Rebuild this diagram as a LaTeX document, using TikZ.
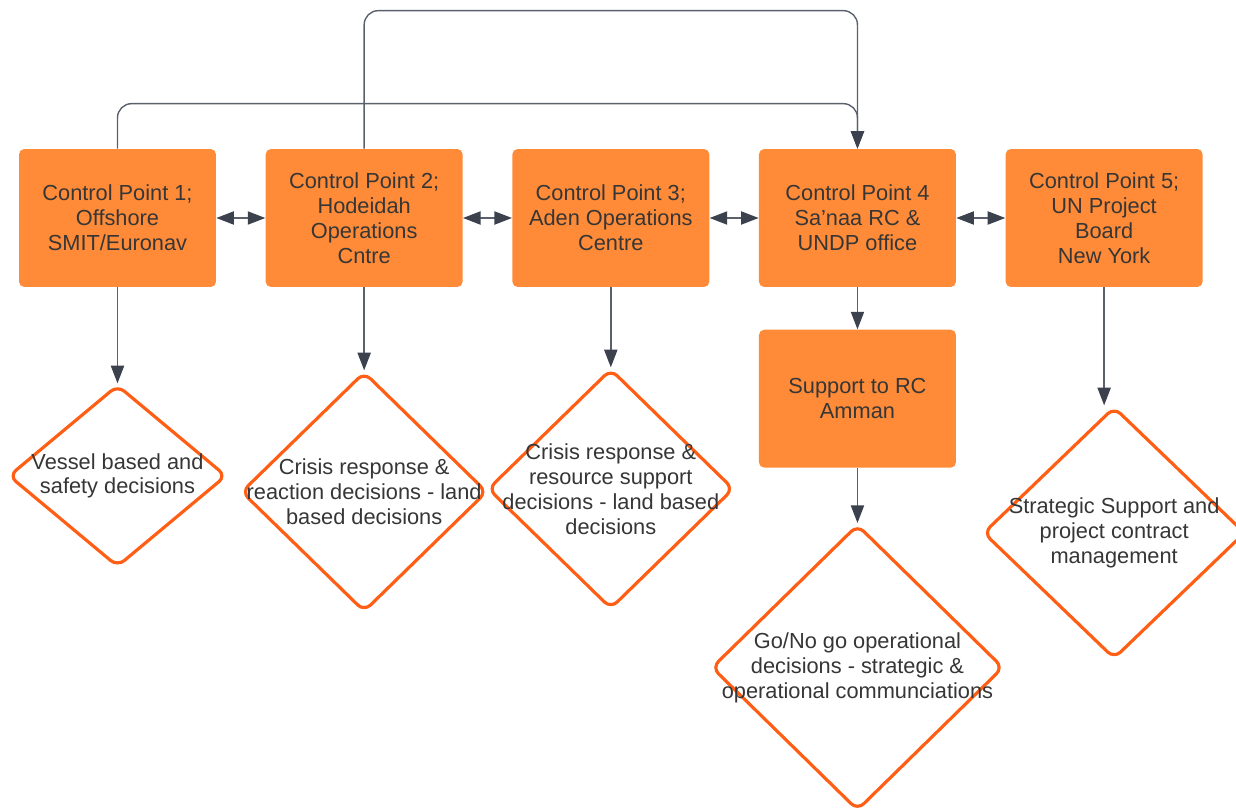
\documentclass[tikz,border=0pt]{standalone}
\usepackage{fontspec}
\setmainfont{Liberation Sans}
\usetikzlibrary{positioning,shapes.geometric,arrows.meta}
\definecolor{boxorange}{HTML}{FF8B38}
\definecolor{edgeorange}{HTML}{FF5E14}
\definecolor{linegrey}{HTML}{5B616C}
\definecolor{tipgrey}{HTML}{3B414D}
\definecolor{textgrey}{HTML}{363636}
\newcommand{\chartfont}{\fontsize{12.4}{14.2}\selectfont}

\tikzset{
	ctrl/.style={rectangle, rounded corners=3pt, fill=boxorange, minimum width=3.94cm,
		minimum height=2.76cm, align=center, text=textgrey, font=\chartfont},
	decision/.style={diamond, draw=edgeorange, line width=1.8pt, rounded corners=5pt,
		fill=white, inner sep=0pt},
	dtext/.style={align=center, text=textgrey, font=\chartfont},
	tip/.tip={Triangle[length=10pt, width=7.5pt, color=tipgrey]},
	link/.style={draw=linegrey, line width=0.8pt, -tip},
	dlink/.style={draw=linegrey, line width=0.8pt, tip-tip},
}

\begin{document}
\begin{tikzpicture}[x=0.02cm, y=-0.02cm]
	\useasboundingbox (0,0) rectangle (1236,811);

	% control points
	\node[ctrl] (b1) at (117.5,218) {Control Point 1;\\Offshore\\SMIT/Euronav};
	\node[ctrl, right=0.98cm of b1] (b2) {Control Point 2;\\Hodeidah\\Operations\\Cntre};
	\node[ctrl, right=0.98cm of b2] (b3) {Control Point 3;\\Aden Operations\\Centre};
	\node[ctrl, right=0.98cm of b3] (b4) {Control Point 4\\Sa'naa RC \&\\UNDP office};
	\node[ctrl, right=0.98cm of b4] (b5) {Control Point 5;\\UN Project\\Board\\New York};
	\node[ctrl, below=0.84cm of b4] (sup) {Support to RC\\Amman};

	% decisions
	\node[decision, minimum width=4.36cm, minimum height=3.64cm, below=1.92cm of b1] (d1) {};
	\node[decision, minimum width=4.92cm, minimum height=4.8cm, below=1.66cm of b2] (d2) {};
	\node[decision, minimum width=4.92cm, minimum height=4.8cm, below=1.6cm of b3] (d3) {};
	\node[decision, minimum width=5.84cm, minimum height=5.72cm, below=1.1cm of sup] (d4) {};
	\node[decision, minimum width=5.24cm, minimum height=5.04cm, below=2.36cm of b5, xshift=0.2cm] (d5) {};

	\node[dtext] at (d1) {Vessel based and\\safety decisions};
	\node[dtext] at (d2) {Crisis response \&\\reaction decisions - land\\based decisions};
	\node[dtext] at (d3) {Crisis response \&\\resource support\\decisions - land based\\decisions};
	\node[dtext] at (d4) {Go/No go operational\\decisions - strategic \&\\operational communciations};
	\node[dtext] at (d5) {Strategic Support and\\project contract\\management};

	% links
	\draw[dlink] (b1) -- (b2);
	\draw[dlink] (b2) -- (b3);
	\draw[dlink] (b3) -- (b4);
	\draw[dlink] (b4) -- (b5);

	\draw[link] (b1) -- (d1);
	\draw[link] (b2) -- (d2);
	\draw[link] (b3) -- (d3);
	\draw[link] (b4) -- (sup);
	\draw[link] (sup) -- (d4);
	\draw[link] (b5.south) -- (b5.south |- d5.north);

	\draw[link, rounded corners=8pt] (b1.north) -- ++(0,-45) -| (b4.north);
	\draw[link, rounded corners=8pt] (b2.north) -- ++(0,-138) -| (b4.north);
\end{tikzpicture}
\end{document}
